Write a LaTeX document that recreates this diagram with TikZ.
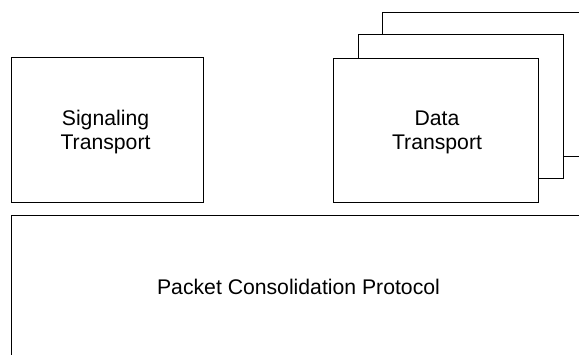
\documentclass[tikz,border=0pt]{standalone}
\usepackage{fontspec}
\setmainfont{Liberation Sans}
\begin{document}
\begin{tikzpicture}[x=1pt,y=-1pt,
  box/.style={draw=black,line width=0.9pt,fill=white,inner sep=0pt,rectangle},
  sigbox/.style={box,minimum width=192pt,minimum height=145pt},
  databox/.style={box,minimum width=205pt,minimum height=144pt},
  label/.style={align=center,inner sep=0pt,font=\fontsize{21.2}{24}\selectfont}]
\useasboundingbox (0,0) rectangle (579,354);
\clip (0,0) rectangle (579,354);
\fill[white] (0,0) rectangle (579,354);

% signaling transport
\node[sigbox] (sig) at (107.25,129.5) {};
\node[label] (sigtext) at (105.5,132) {Signaling\\Transport};

% stacked data transport instances, back to front
\node[databox] (data3) at (484.75,84) {};
\node[databox] (data2) at (460.5,106) {};
\node[databox] (data1) at (436.25,130.3) {};
\node[label] (datatext) at (437,132.5) {Data\\Transport};

% packet consolidation protocol layer
\node[box,minimum width=574pt,minimum height=144pt] (pcp) at (298.5,287.5) {};
\node[label] (pcptext) at (298.5,287) {Packet Consolidation Protocol};
\end{tikzpicture}
\end{document}
